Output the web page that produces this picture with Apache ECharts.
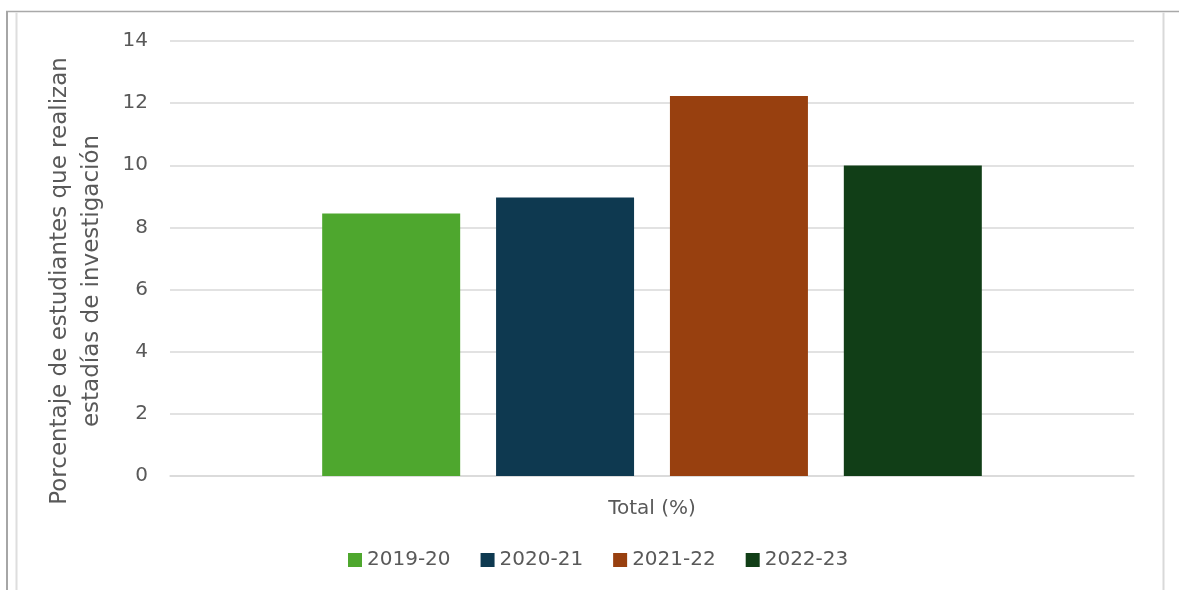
<!DOCTYPE html>
<html>
<head>
<meta charset="utf-8">
<script src="https://cdn.jsdelivr.net/npm/echarts@6/dist/echarts.min.js"></script>
<style>
html,body{margin:0;padding:0;background:#fff;}
#chart{width:1179px;height:590px;}
</style>
</head>
<body>
<div id="chart"></div>
<script>
const categories = ['Total (%)'];
const seriesNames = ['2019-20', '2020-21', '2021-22', '2022-23'];
const values = [8.45, 8.96, 12.23, 9.99];
const yTicks = { min: 0, max: 14, interval: 2 };
const yTitle = 'Porcentaje de estudiantes que realizan\nestadías de investigación';
const colors = ['#4EA72E', '#0E3950', '#98400F', '#113E17'];

const FONT = 'DejaVu Sans';
const TXT = '#595959';

const chart = echarts.init(document.getElementById('chart'), null, { renderer: 'canvas' });
const series = seriesNames.map((name, i) => ({
  name: name,
  type: 'bar',
  data: [values[i]],
  barWidth: 138,
  barGap: '26%',
  itemStyle: { color: colors[i] },
  emphasis: { disabled: true }
}));

chart.setOption({
  backgroundColor: '#ffffff',
  animation: false,
  color: colors,
  grid: { left: 170, right: 45, top: 41, bottom: 114 },
  legend: {
    data: seriesNames,
    left: 343,
    top: 545,
    itemWidth: 14,
    itemHeight: 14,
    itemGap: 30,
    icon: 'rect',
    textStyle: { fontFamily: FONT, fontSize: 20, color: TXT }
  },
  xAxis: {
    type: 'category',
    data: categories,
    axisLine: { show: true, lineStyle: { color: '#d9d9d9', width: 1.5 } },
    axisTick: { show: false },
    axisLabel: { fontFamily: FONT, fontSize: 20, color: TXT, margin: 23 }
  },
  yAxis: {
    type: 'value',
    min: yTicks.min,
    max: yTicks.max,
    interval: yTicks.interval,
    name: yTitle,
    nameLocation: 'middle',
    nameGap: 62,
    nameTextStyle: { fontFamily: FONT, fontSize: 23, color: TXT, lineHeight: 32, padding: [0, 45, 0, 0] },
    axisLine: { show: false },
    axisTick: { show: false },
    splitLine: { lineStyle: { color: '#d9d9d9', width: 1.5 } },
    axisLabel: { fontFamily: FONT, fontSize: 20, color: TXT, margin: 22 }
  },
  graphic: [
    { type: 'line', silent: true, shape: { x1: 6, y1: 11.5, x2: 1179, y2: 11.5 }, style: { stroke: '#a9a9a9', lineWidth: 1.5 } },
    { type: 'line', silent: true, shape: { x1: 7, y1: 11, x2: 7, y2: 590 }, style: { stroke: '#a6a6a6', lineWidth: 2 } },
    { type: 'line', silent: true, shape: { x1: 16.5, y1: 12.5, x2: 16.5, y2: 590 }, style: { stroke: '#dedede', lineWidth: 2 } },
    { type: 'line', silent: true, shape: { x1: 1163.5, y1: 12.5, x2: 1163.5, y2: 590 }, style: { stroke: '#d9d9d9', lineWidth: 2 } }
  ],
  series: series
});
</script>
</body>
</html>
